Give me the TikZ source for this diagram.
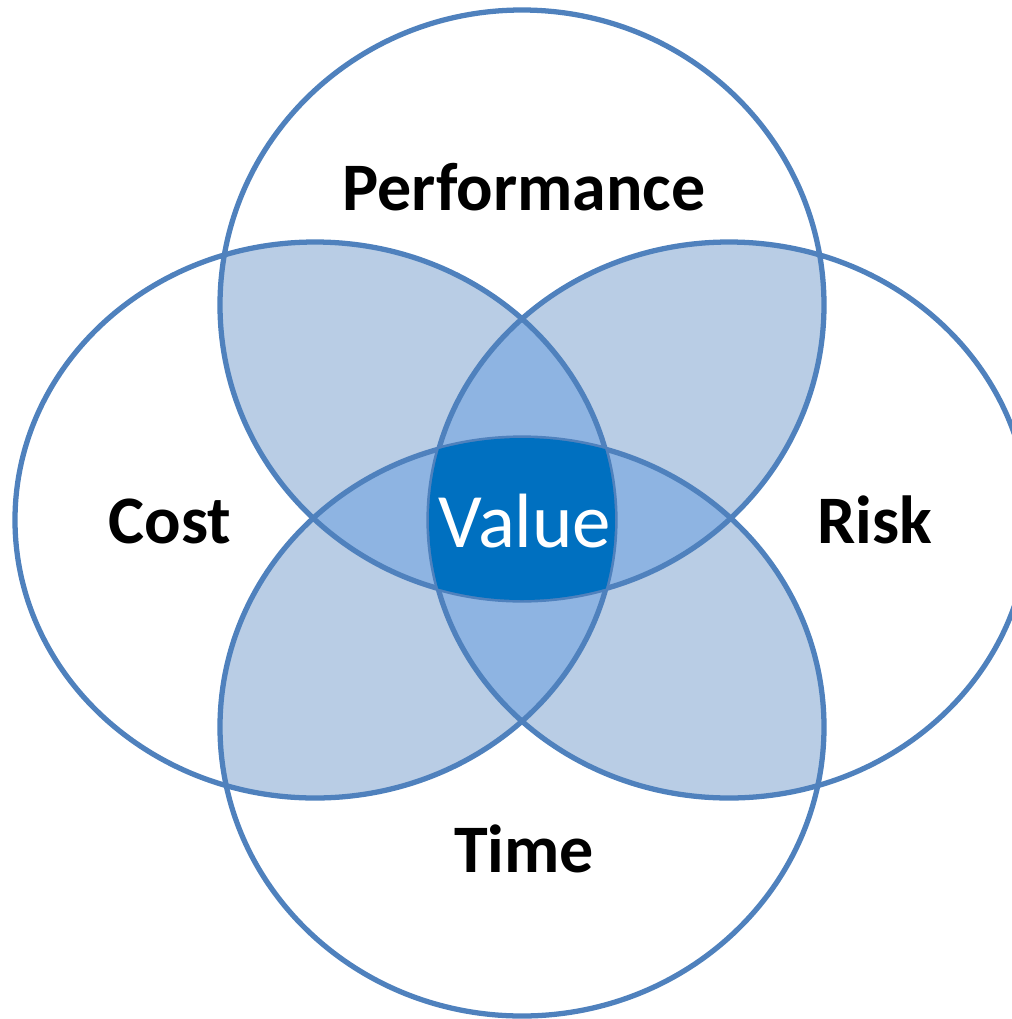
\documentclass[tikz,border=0pt]{standalone}
\usepackage{fontspec}
\setmainfont{Carlito}
\definecolor{ringblue}{RGB}{79,129,189}
\definecolor{pairfill}{RGB}{185,205,229}
\definecolor{tripfill}{RGB}{142,180,226}
\definecolor{valfill}{RGB}{0,112,192}
\newcommand{\perfring}{(perf) ellipse [x radius=302, y radius=295]}
\newcommand{\timering}{(time) ellipse [x radius=302, y radius=289]}
\newcommand{\costring}{(cost) ellipse [x radius=300, y radius=278]}
\newcommand{\riskring}{(risk) ellipse [x radius=300, y radius=278]}
\begin{document}
\begin{tikzpicture}[x=0.02cm, y=0.02cm,
    ring/.style={draw=ringblue, line width=3pt},
    ringlabel/.style={anchor=base, font=\fontsize{38.7}{46}\selectfont\bfseries},
    valuelabel/.style={anchor=base, text=white, font=\fontsize{43.8}{52}\selectfont}]
      \useasboundingbox (0,0) rectangle (1012,-1019);
      \clip (0,0) rectangle (1012,-1019);
      \coordinate (perf) at (522,-305);
      \coordinate (time) at (522,-727);
      \coordinate (cost) at (315,-520);
      \coordinate (risk) at (729,-520);
      \begin{scope}
        \clip \perfring;
        \fill[pairfill] \costring;
        \fill[pairfill] \riskring;
      \end{scope}
      \begin{scope}
        \clip \timering;
        \fill[pairfill] \costring;
        \fill[pairfill] \riskring;
      \end{scope}
      \begin{scope}
        \clip \costring; \clip \riskring;
        \fill[tripfill] \perfring;
        \fill[tripfill] \timering;
      \end{scope}
      \begin{scope}
        \clip \perfring; \clip \timering;
        \fill[tripfill] \costring;
        \fill[tripfill] \riskring;
      \end{scope}
      \draw[ring] \perfring;
      \draw[ring] \timering;
      \draw[ring] \costring;
      \draw[ring] \riskring;
      \begin{scope}
        \clip \perfring; \clip \timering; \clip \costring;
        \fill[valfill] \riskring;
      \end{scope}
      \node[ringlabel] (perflabel) at (524,-210) {Performance};
      \node[ringlabel] (costlabel) at (170,-543) {Cost};
      \node[ringlabel] (risklabel) at (875,-543) {Risk};
      \node[ringlabel] (timelabel) at (524,-872) {Time};
      \node[valuelabel] (valuelabel) at (525,-547) {Value};
\end{tikzpicture}
\end{document}
